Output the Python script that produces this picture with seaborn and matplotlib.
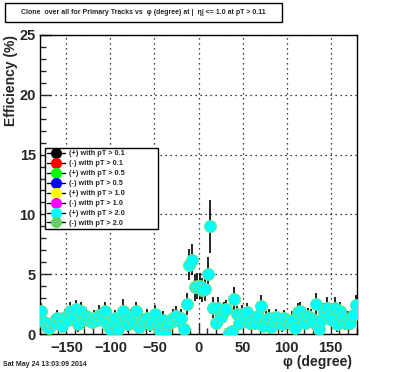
import numpy as np
import pandas as pd
import matplotlib
matplotlib.use('Agg')
import matplotlib.pyplot as plt
from matplotlib.lines import Line2D
from matplotlib.patches import Rectangle
from matplotlib.ticker import MultipleLocator
import seaborn as sns

# phi bin centres (degree) and clone efficiency (%)
phi = np.arange(-178.5, 180, 3.0)
efficiency = [
    1.9, 1.0, 0.6, 0.5, 0.9, 0.95, 1.3, 1.1, 0.7, 1.4,
    1.2, 1.9, 1.5, 2.05, 0.8, 1.9, 1.2, 1.5, 1.2, 1.0,
    1.3, 1.2, 1.6, 1.4, 1.9, 0.8, 0.4, 0.95, 1.3, 0.4,
    1.1, 1.9, 1.2, 0.8, 1.4, 0.95, 1.9, 0.6, 1.1, 1.1,
    1.35, 0.8, 1.0, 1.65, 0.8, 0.25, 1.2, 0.1, 0.8, 1.0,
    1.35, 1.5, 1.1, 1.35, 0.4, 2.5, 5.8, 6.2, 3.9, 4.0,
    4.0, 3.7, 3.75, 5.0, 9.0, 2.2, 0.95, 2.2, 1.4, 1.9,
    2.05, 0.1, 0.25, 2.9, 1.65, 0.95, 1.7, 1.3, 1.8, 0.9,
    1.2, 0.95, 1.5, 2.35, 0.7, 1.2, 1.35, 0.6, 1.1, 1.4,
    1.1, 0.8, 1.3, 1.1, 0.9, 1.2, 0.5, 1.8, 1.9, 1.3,
    0.95, 1.5, 1.35, 1.0, 2.5, 0.4, 1.2, 1.8, 2.2, 1.5,
    1.2, 2.2, 0.8, 1.9, 1.4, 0.95, 1.2, 0.95, 1.6, 2.4,
]
errors = [
    0.7, 0.6, 0.5, 0.4, 0.6, 0.6, 0.7, 0.6, 0.5, 0.7,
    0.7, 0.8, 0.7, 0.8, 0.6, 0.8, 0.7, 0.7, 0.6, 0.6,
    0.7, 0.6, 0.8, 0.7, 0.8, 0.6, 0.4, 0.6, 0.7, 0.4,
    0.6, 1.0, 0.7, 0.6, 0.7, 0.6, 0.8, 0.5, 0.6, 0.6,
    0.7, 0.6, 0.6, 0.8, 0.6, 0.3, 0.7, 0.2, 0.6, 0.6,
    0.7, 0.8, 0.6, 0.7, 0.4, 0.9, 1.3, 1.3, 1.1, 1.1,
    1.1, 1.0, 1.0, 1.4, 2.2, 0.9, 0.6, 0.9, 0.7, 0.8,
    0.8, 0.2, 0.3, 1.0, 0.7, 0.6, 0.7, 0.7, 0.8, 0.6,
    0.7, 0.6, 0.7, 0.9, 0.5, 0.7, 0.7, 0.5, 0.6, 0.7,
    0.6, 0.6, 0.7, 0.6, 0.6, 0.7, 0.4, 0.8, 0.8, 0.7,
    0.6, 0.7, 0.7, 0.6, 0.9, 0.4, 0.7, 0.8, 0.9, 0.7,
    0.7, 0.9, 0.6, 0.8, 0.7, 0.6, 0.7, 0.6, 0.7, 0.9,
]

legend_labels = ['(+) with pT > 0.1', '(-) with pT > 0.1',
                 '(+) with pT > 0.5', '(-) with pT > 0.5',
                 '(+) with pT > 1.0', '(-) with pT > 1.0',
                 '(+) with pT > 2.0', '(-) with pT > 2.0']
legend_colors = ['black', 'red', '#00ff00', 'blue',
                 'yellow', 'magenta', 'cyan', '#66cc66']

df = pd.DataFrame({'phi': phi, 'eff': efficiency, 'err': errors})

sns.set_style('ticks')
plt.rcParams['font.family'] = ['Liberation Sans', 'DejaVu Sans']
plt.rcParams['font.weight'] = 'bold'

fig = plt.figure(figsize=(3.96, 3.72), dpi=100)
ax = fig.add_axes([40 / 396, 38 / 372, 317 / 396, 299 / 372])

# error bars, then markers on top
ax.vlines(df['phi'], df['eff'] - df['err'], df['eff'] + df['err'],
          color='black', lw=1.2, zorder=2)
sns.scatterplot(data=df, x='phi', y='eff', color='cyan', edgecolor='#77dd77',
                linewidth=0.6, s=75, ax=ax, zorder=3, legend=False)

ax.set_xlim(-180, 180)
ax.set_ylim(0, 25)
ax.xaxis.set_major_locator(MultipleLocator(50))
ax.xaxis.set_minor_locator(MultipleLocator(10))
ax.yaxis.set_major_locator(MultipleLocator(5))
ax.yaxis.set_minor_locator(MultipleLocator(1))
ax.tick_params(which='major', direction='in', length=8, width=1,
               labelsize=10.5, top=False, right=False)
ax.tick_params(axis='x', which='major', pad=5)
ax.tick_params(axis='y', which='major', pad=3)
ax.tick_params(which='minor', direction='in', length=4, width=1,
               top=False, right=False)
for lab in ax.get_xticklabels() + ax.get_yticklabels():
    lab.set_fontweight('bold')
ax.grid(True, which='major', color='black', linestyle=(0, (1, 3)), lw=0.9)
for sp in ax.spines.values():
    sp.set_linewidth(1.0)
    sp.set_color('black')

ax.set_xlabel('')
ax.set_ylabel('')
fig.text(352 / 396, 1 - 362 / 372, 'φ (degree)', ha='right', va='center',
         fontsize=10, fontweight='bold')
fig.text(0.028, 0.905, 'Efficiency (%)', ha='center', va='top',
         rotation=90, fontsize=10, fontweight='bold')
fig.text(0.008, 1 - 365 / 372, 'Sat May 24 13:03:09 2014', ha='left',
         va='center', fontsize=5, fontweight='bold')

# title box
fig.patches.append(Rectangle((5 / 396, 1 - 22 / 372), 277 / 396, 19 / 372,
                             transform=fig.transFigure, facecolor='white',
                             edgecolor='black', lw=1.0))
fig.text(143 / 396, 1 - 12.5 / 372,
         'Clone  over all for Primary Tracks vs  φ (degree) at |  η| <= 1.0 at pT > 0.11',
         ha='center', va='center', fontsize=5, fontweight='bold')

handles = [Line2D([0], [0], color='black', lw=1, marker='o', markersize=7,
                  markerfacecolor=c, markeredgecolor=c) for c in legend_colors]
leg = ax.legend(handles, legend_labels, loc='upper left', mode='expand',
                bbox_to_anchor=(5 / 317, 0.371, 113 / 317, 0.251),
                frameon=True, fancybox=False, fontsize=5.3, handlelength=2.4,
                labelspacing=0.38, borderpad=0.3, handletextpad=0.5,
                borderaxespad=0)
leg.get_frame().set_edgecolor('black')
leg.get_frame().set_facecolor('white')
leg.get_frame().set_alpha(1)
for t in leg.get_texts():
    t.set_fontweight('bold')

fig.savefig('out.png', dpi=100, facecolor='white')
